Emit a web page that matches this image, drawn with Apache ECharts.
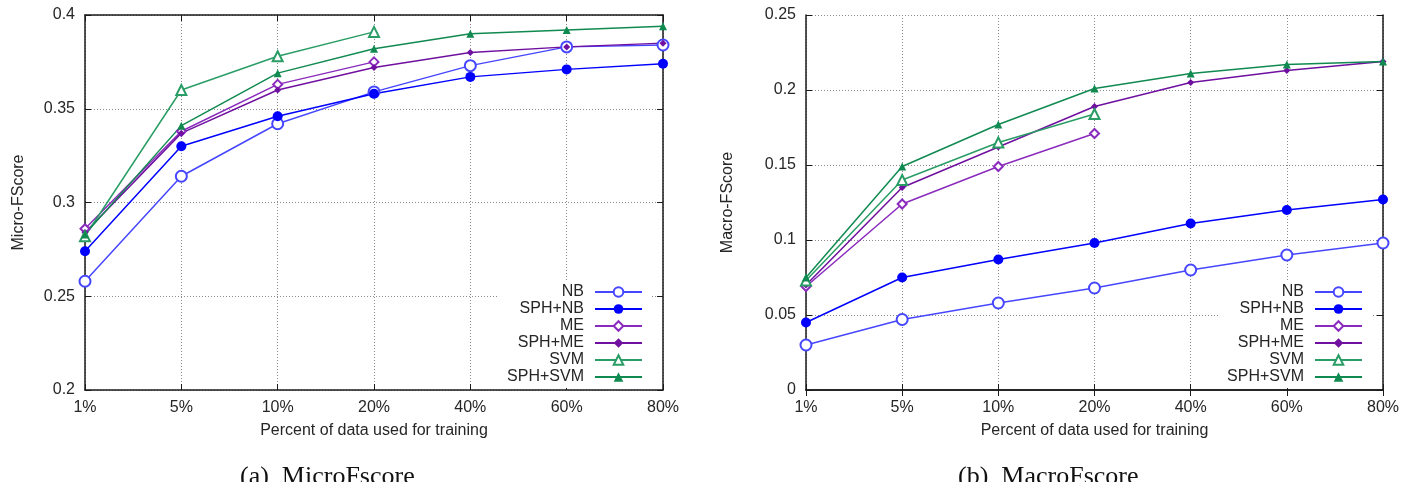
<!DOCTYPE html>
<html>
<head>
<meta charset="utf-8">
<title>MicroFscore / MacroFscore</title>
<script src="https://cdn.jsdelivr.net/npm/echarts@6/dist/echarts.min.js"></script>
<style>
  html, body { margin: 0; padding: 0; background: #fff; }
  #chart { width: 1405px; height: 482px; }
</style>
</head>
<body>
<div id="chart"></div>
<script>
// categories (x axis)
const categories = ["1%", "5%", "10%", "20%", "40%", "60%", "80%"];

// (a) MicroFscore
const microNB = [0.258, 0.314, 0.342, 0.359, 0.373, 0.383, 0.384];
const microSphNB = [0.274, 0.330, 0.346, 0.358, 0.367, 0.371, 0.374];
const microME = [0.286, 0.338, 0.363, 0.375];
const microSphME = [0.284, 0.337, 0.360, 0.372, 0.380, 0.383, 0.385];
const microSVM = [0.282, 0.360, 0.378, 0.391];
const microSphSVM = [0.283, 0.341, 0.369, 0.382, 0.390, 0.392, 0.394];

// (b) MacroFscore
const macroNB = [0.030, 0.047, 0.058, 0.068, 0.080, 0.090, 0.098];
const macroSphNB = [0.045, 0.075, 0.087, 0.098, 0.111, 0.120, 0.127];
const macroME = [0.069, 0.124, 0.149, 0.171];
const macroSphME = [0.070, 0.135, 0.162, 0.189, 0.205, 0.213, 0.219];
const macroSVM = [0.073, 0.140, 0.165, 0.184];
const macroSphSVM = [0.075, 0.149, 0.177, 0.201, 0.211, 0.217, 0.219];

const names = ["NB", "SPH+NB", "ME", "SPH+ME", "SVM", "SPH+SVM"];

// look of each method: colour, symbol, size
const styles = {
  "NB": { color: "#4646ff", symbol: "emptyCircle", size: 11 },
  "SPH+NB": { color: "#0000ff", symbol: "circle", size: 10 },
  "ME": { color: "#8a2bbd", symbol: "emptyDiamond", size: 9 },
  "SPH+ME": { color: "#7010a0", symbol: "diamond", size: 7 },
  "SVM": { color: "#2a9d66", symbol: "emptyTriangle", size: 10 },
  "SPH+SVM": { color: "#108a50", symbol: "triangle", size: 8 }
};

const font = "Liberation Sans";
const textColor = "#262626";

function makeSeries(name, data, axisIndex) {
  const s = styles[name];
  return {
    name: name,
    type: "line",
    xAxisIndex: axisIndex,
    yAxisIndex: axisIndex,
    data: data,
    symbol: s.symbol,
    symbolSize: s.size,
    color: s.color,
    lineStyle: { width: 1.5, color: s.color },
    itemStyle: { color: s.color, borderWidth: 1.5 },
    animation: false
  };
}

function xAxisPair(gridIndex) {
  return [
    {
      type: "category",
      gridIndex: gridIndex,
      data: categories,
      boundaryGap: false,
      name: "Percent of data used for training",
      nameLocation: "middle",
      nameGap: 33,
      nameTextStyle: { fontFamily: font, fontSize: 16, color: textColor },
      axisLine: { lineStyle: { color: "#1a1a1a", width: 1.5 } },
      axisTick: { inside: true, length: 6, lineStyle: { color: "#1a1a1a" } },
      axisLabel: { fontFamily: font, fontSize: 16, color: textColor, margin: 10 },
      splitLine: { show: true, lineStyle: { color: "#8a8a8a", type: [1, 2] } }
    },
    {
      type: "category",
      gridIndex: gridIndex,
      position: "top",
      data: categories,
      boundaryGap: false,
      axisLine: { lineStyle: { color: "#1a1a1a", width: 1.5 } },
      axisTick: { inside: true, length: 6, lineStyle: { color: "#1a1a1a" } },
      axisLabel: { show: false },
      splitLine: { show: false }
    }
  ];
}

function yAxisPair(gridIndex, min, max, title, gap) {
  return [
    {
      type: "value",
      gridIndex: gridIndex,
      min: min,
      max: max,
      interval: 0.05,
      name: title,
      nameLocation: "middle",
      nameGap: gap,
      nameTextStyle: { fontFamily: font, fontSize: 16, color: textColor },
      axisLine: { show: true, lineStyle: { color: "#1a1a1a", width: 1.5 } },
      axisTick: { show: true, inside: true, length: 6, lineStyle: { color: "#1a1a1a" } },
      axisLabel: { fontFamily: font, fontSize: 16, color: textColor, margin: 10 },
      splitLine: { show: true, lineStyle: { color: "#8a8a8a", type: [1, 2] } }
    },
    {
      type: "value",
      gridIndex: gridIndex,
      position: "right",
      min: min,
      max: max,
      interval: 0.05,
      axisLine: { show: true, lineStyle: { color: "#1a1a1a", width: 1.5 } },
      axisTick: { show: true, inside: true, length: 6, lineStyle: { color: "#1a1a1a" } },
      axisLabel: { show: false },
      splitLine: { show: false }
    }
  ];
}

function makeLegend(right) {
  return {
    orient: "vertical",
    right: right,
    top: 281,
    align: "right",
    data: names,
    itemWidth: 47,
    itemHeight: 12,
    itemGap: 1,
    padding: [3, 8, 3, 8],
    backgroundColor: "#fff",
    selectedMode: false,
    textStyle: { fontFamily: font, fontSize: 16, color: textColor, padding: [0, 6, 0, 0] }
  };
}

const chart = echarts.init(document.getElementById("chart"), null, { renderer: "canvas" });

const microData = [microNB, microSphNB, microME, microSphME, microSVM, microSphSVM];
const macroData = [macroNB, macroSphNB, macroME, macroSphME, macroSVM, macroSphSVM];

const series = [];
names.forEach(function (n, i) {
  series.push(makeSeries(n, microData[i], 0));
});
names.forEach(function (n, i) {
  series.push(makeSeries(n, macroData[i], 2));
});

const option = {
  backgroundColor: "#fff",
  animation: false,
  grid: [
    { left: 85, right: 742, top: 15, bottom: 92 },
    { left: 806, right: 22, top: 15, bottom: 92 }
  ],
  xAxis: xAxisPair(0).concat(xAxisPair(1)),
  yAxis: yAxisPair(0, 0.2, 0.4, "Micro-FScore", 58).concat(yAxisPair(1, 0, 0.25, "Macro-FScore", 70)),
  legend: [makeLegend(754), makeLegend(34)],
  series: series,
  graphic: [
    {
      type: "text",
      left: 240,
      top: 464,
      style: { text: "(a)  MicroFscore", font: "26px 'Liberation Serif'", fill: "#111" }
    },
    {
      type: "text",
      left: 958,
      top: 464,
      style: { text: "(b)  MacroFscore", font: "26px 'Liberation Serif'", fill: "#111" }
    }
  ]
};

chart.setOption(option);
</script>
</body>
</html>
